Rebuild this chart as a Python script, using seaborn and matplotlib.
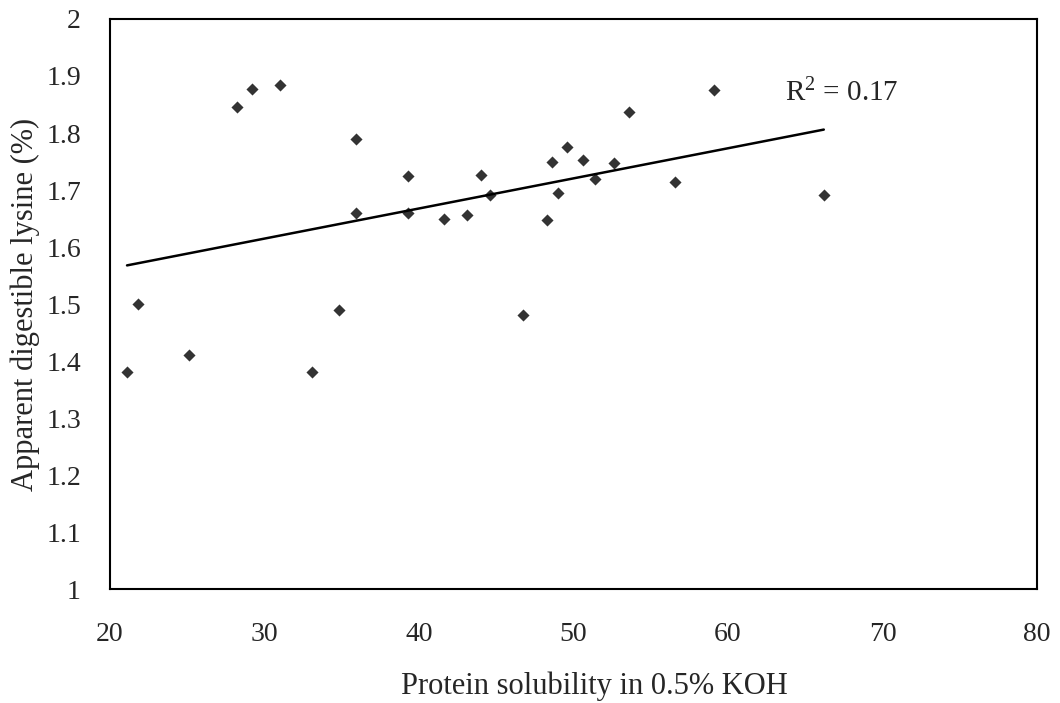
import numpy as np
import pandas as pd
import matplotlib
matplotlib.use("Agg")
import matplotlib.pyplot as plt
import seaborn as sns

# data
solubility = [21.1, 21.8, 25.1, 28.2, 29.2, 31.0, 33.1, 34.8, 35.9, 35.9,
              39.3, 39.3, 41.6, 43.1, 44.0, 44.6, 46.7, 48.3, 48.6, 49.0,
              49.6, 50.6, 51.4, 52.6, 53.6, 56.6, 59.1, 66.2]
lysine = [1.38, 1.50, 1.41, 1.845, 1.877, 1.884, 1.38, 1.49, 1.79, 1.66,
          1.725, 1.66, 1.65, 1.657, 1.727, 1.692, 1.48, 1.647, 1.75, 1.695,
          1.775, 1.753, 1.72, 1.748, 1.837, 1.714, 1.875, 1.691]
x_ticks = [20, 30, 40, 50, 60, 70, 80]
y_ticks = [1, 1.1, 1.2, 1.3, 1.4, 1.5, 1.6, 1.7, 1.8, 1.9, 2]
y_labels = ["1", "1.1", "1.2", "1.3", "1.4", "1.5", "1.6", "1.7", "1.8", "1.9", "2"]

df = pd.DataFrame({"sol": solubility, "lys": lysine})

sns.set_style("white")
plt.rcParams["font.family"] = ["Liberation Serif", "DejaVu Serif"]
plt.rcParams["mathtext.fontset"] = "custom"
plt.rcParams["mathtext.rm"] = "Liberation Serif"
plt.rcParams["mathtext.it"] = "Liberation Serif:italic"

fig = plt.figure(figsize=(10.6, 7.03), dpi=100)
ax = fig.add_axes([0.1038, 0.162, 0.8745, 0.811])

sns.regplot(x="sol", y="lys", data=df, ci=None, ax=ax, marker="D",
            scatter_kws={"s": 38, "color": "black", "linewidths": 0},
            line_kws={"color": "black", "linewidth": 1.8})

ax.text(63.7, 1.87, r"R$^{\mathrm{2}}$ = 0.17", fontsize=21, ha="left", va="center")

ax.set_xlim(20, 80)
ax.set_ylim(1, 2)
ax.set_xticks(x_ticks)
ax.set_yticks(y_ticks)
ax.set_yticklabels(y_labels)
ax.tick_params(length=0, labelsize=20)
ax.tick_params(axis="x", pad=24)
ax.tick_params(axis="y", pad=21)
ax.set_xlabel("Protein solubility in 0.5% KOH", fontsize=22)
ax.set_ylabel("Apparent digestible lysine (%)", fontsize=22)
ax.xaxis.set_label_coords(0.522, -0.170)
ax.xaxis.label.set_va("center")
ax.yaxis.set_label_coords(-0.091, 0.5)
ax.yaxis.label.set_va("center")
for s in ax.spines.values():
    s.set_color("black")
    s.set_linewidth(1.5)

plt.savefig("out.png", dpi=100)
